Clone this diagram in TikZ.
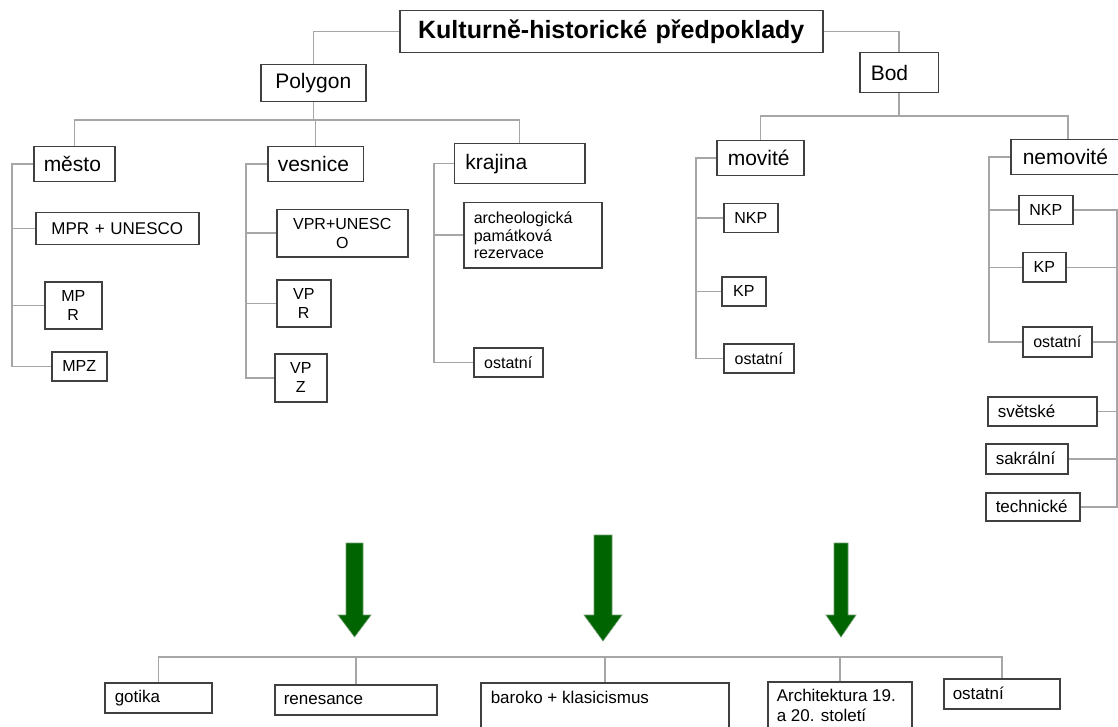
\documentclass[tikz,border=0pt]{standalone}
\usepackage{fontspec}
\setmainfont{Liberation Sans}
\definecolor{connc}{HTML}{A6A6A6}
\definecolor{boxc}{HTML}{404040}
\definecolor{arrowg}{HTML}{006400}
\definecolor{arrowedge}{HTML}{6E9A6E}
\begin{document}
\begin{tikzpicture}[x=1pt,y=-1pt,
  conn/.style={draw=connc, line width=1.5pt},
  bx/.style={draw=boxc, line width=1.5pt, anchor=north west, inner ysep=0pt},
  fL/.style={font=\fontsize{25}{28}\selectfont\bfseries},
  fM/.style={font=\fontsize{21}{24}\selectfont},
  fS/.style={font=\fontsize{16}{19}\selectfont},
  fB/.style={font=\fontsize{17}{20}\selectfont},
  garrow/.style={fill=arrowg, draw=arrowedge, line width=0.6pt, line join=miter}
]
\useasboundingbox (0,0) rectangle (1118,727);
\clip (0,0) rectangle (1118,727);

% ---- top levels
\node[bx,fL,text width=403pt,inner xsep=10pt,minimum height=42pt,align=center] (title) at (399,10) {Kulturně-historické předpoklady};
\node[bx,fM,text width=85pt,inner xsep=10pt,minimum height=37pt,align=center] (poly) at (260,64) {Polygon};
\node[bx,fM,text width=56.5pt,inner xsep=11pt,minimum height=40pt,align=left] (bod) at (859,52) {Bod};

\node[bx,fM,text width=61pt,inner xsep=10pt,minimum height=35pt,align=left] (mesto) at (33,146) {město};
\node[bx,fM,text width=75.5pt,inner xsep=10pt,minimum height=35pt,align=left] (vesnice) at (267,146) {vesnice};
\node[bx,fM,text width=108.4pt,inner xsep=11pt,minimum height=40pt,align=left] (krajina) at (453.6,143) {krajina};
\node[bx,fM,text width=65pt,inner xsep=11pt,minimum height=35pt,align=left] (movite) at (716,140) {movité};
\node[bx,fM,text width=90pt,inner xsep=12pt,minimum height=35pt,align=left] (nemovite) at (1010,139) {nemovité};

% ---- third level
\node[bx,fB,text width=143pt,inner xsep=10pt,minimum height=32pt,align=center] (mpru) at (35,212) {MPR + UNESCO};
\node[bx,fS,text width=41pt,inner xsep=8pt,minimum height=47pt,align=center] (mpr) at (44,281) {MP\\R};
\node[bx,fS,text width=39pt,inner xsep=8pt,minimum height=29pt,align=center] (mpz) at (51,351) {MPZ};

\node[bx,fS,text width=115pt,inner xsep=8pt,minimum height=47pt,align=center] (vpru) at (276,209) {VPR+UNESC\\O};
\node[bx,fS,text width=38pt,inner xsep=8pt,minimum height=47pt,align=center] (vpr) at (276,279) {VP\\R};
\node[bx,fS,text width=36pt,inner xsep=8pt,minimum height=48pt,align=center] (vpz) at (274,353) {VP\\Z};

\node[bx,font=\fontsize{16}{17.5}\selectfont,text width=118pt,inner xsep=10pt,minimum height=65pt,align=left] (arch) at (463,202) {archeologická\\památková\\rezervace};
\node[bx,fS,text width=53pt,inner xsep=8pt,minimum height=29pt,align=center] (ostK) at (473,347) {ostatní};

\node[bx,fS,text width=38pt,inner xsep=8pt,minimum height=29pt,align=center] (nkpM) at (723,203) {NKP};
\node[bx,fS,text width=28pt,inner xsep=8pt,minimum height=29pt,align=center] (kpM) at (721,276) {KP};
\node[bx,fS,text width=54pt,inner xsep=8pt,minimum height=29pt,align=center] (ostM) at (723,343) {ostatní};

\node[bx,fS,text width=38pt,inner xsep=8pt,minimum height=29pt,align=center] (nkpN) at (1018,195) {NKP};
\node[bx,fS,text width=27pt,inner xsep=8pt,minimum height=29pt,align=center] (kpN) at (1022,252) {KP};
\node[bx,fS,text width=53pt,inner xsep=8pt,minimum height=30pt,align=center] (ostN) at (1022,326) {ostatní};
\node[bx,fB,text width=89pt,inner xsep=10pt,minimum height=29pt,align=left] (svet) at (987,396) {světské};
\node[bx,fB,text width=62pt,inner xsep=10pt,minimum height=30pt,align=left] (sakr) at (985,443) {sakrální};
\node[bx,fB,text width=74pt,inner xsep=10pt,minimum height=28pt,align=left] (tech) at (985,492) {technické};

% ---- bottom row
\node[bx,fB,text width=87pt,inner xsep=10pt,minimum height=30pt,align=left] (got) at (104,682) {gotika};
\node[bx,fB,text width=144pt,inner xsep=9pt,minimum height=30pt,align=left] (ren) at (274,684) {renesance};
\node[bx,fB,inner xsep=10pt,inner ysep=8pt] (bar) at (480,682) {\parbox[c][44pt][t]{228pt}{baroko + klasicismus}};
\node[bx,fB,inner xsep=9pt,inner ysep=7pt] (arc) at (767,681) {\parbox[c][46pt][t]{126pt}{\raggedright Architektura 19.\\a 20. století}};
\node[bx,fB,text width=98pt,inner xsep=9pt,minimum height=30pt,align=left] (ostB) at (943,678) {ostatní};

% ---- connectors: top
\coordinate (pbar) at (0,120);
\coordinate (bbar) at (0,116);
\draw[conn] (title.west) -| (poly.north);
\draw[conn] (title.east) -| (bod.north);
\draw[conn] (poly.south) -- (poly.south |- pbar);
\draw[conn] (mesto.north) |- (krajina.north |- pbar) -- (krajina.north);
\draw[conn] (vesnice.north) -- (vesnice.north |- pbar);
\draw[conn] (bod.south) -- (bod.south |- bbar);
\draw[conn] (movite.north) |- (nemovite.north |- bbar) -- (nemovite.north);

% ---- side branches
\coordinate (mx) at (12,0);
\coordinate (vx) at (246,0);
\coordinate (kx) at (434,0);
\coordinate (mvx) at (696,0);
\coordinate (nx) at (989,0);
\coordinate (rx) at (1117,0);

\draw[conn] (mesto.west) -| (mpz.west -| mx) -- (mpz.west);
\foreach \n in {mpru,mpr} \draw[conn] (\n.west) -- (\n.west -| mx);

\draw[conn] (vesnice.west) -| (vpz.west -| vx) -- (vpz.west);
\foreach \n in {vpru,vpr} \draw[conn] (\n.west) -- (\n.west -| vx);

\draw[conn] (krajina.west) -| (ostK.west -| kx) -- (ostK.west);
\draw[conn] (arch.west) -- (arch.west -| kx);

\draw[conn] (movite.west) -| (ostM.west -| mvx) -- (ostM.west);
\foreach \n in {nkpM,kpM} \draw[conn] (\n.west) -- (\n.west -| mvx);

\draw[conn] (nemovite.west) -| (ostN.west -| nx) -- (ostN.west);
\foreach \n in {nkpN,kpN} \draw[conn] (\n.west) -- (\n.west -| nx);

\draw[conn] (nkpN.east) -| (tech.east -| rx) -- (tech.east);
\foreach \n in {kpN,ostN,svet,sakr} \draw[conn] (\n.east) -- (\n.east -| rx);

% ---- bottom tree
\coordinate (lbar) at (0,657);
\draw[conn] (got.north) |- (ostB.north |- lbar) -- (ostB.north);
\foreach \n in {ren,bar,arc} \draw[conn] (\n.north) -- (\n.north |- lbar);

% ---- green arrows
\path[garrow] (346,543) -- (363,543) -- (363,615) -- (371,615) -- (354.5,637) -- (338,615) -- (346,615) -- cycle;
\path[garrow] (594,535) -- (612,535) -- (612,615) -- (622,615) -- (603,641) -- (584,615) -- (594,615) -- cycle;
\path[garrow] (834,543) -- (848,543) -- (848,615) -- (856,615) -- (841,637) -- (826,615) -- (834,615) -- cycle;
\end{tikzpicture}
\end{document}
